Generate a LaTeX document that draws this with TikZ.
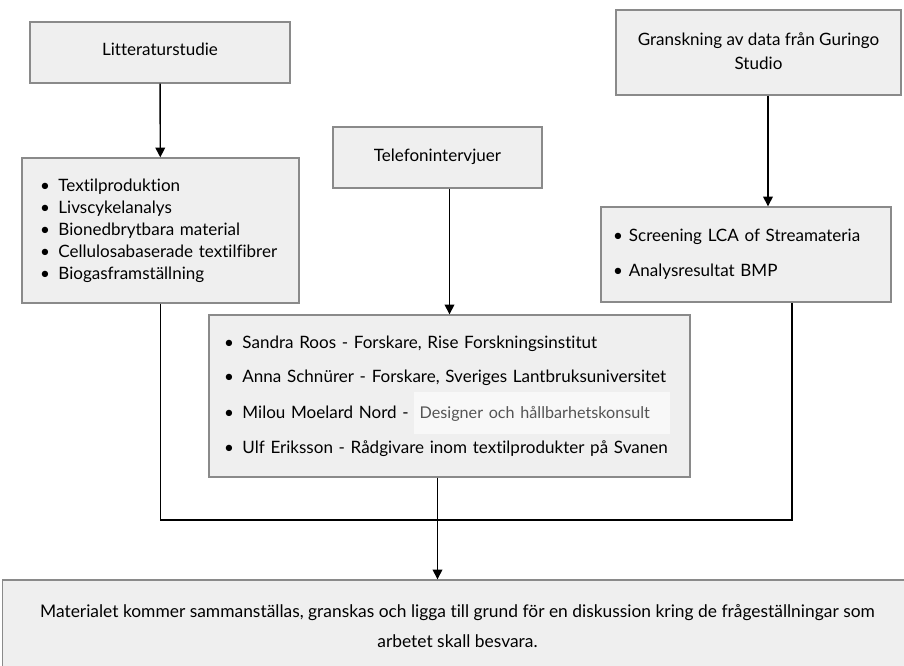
\documentclass[tikz,border=0pt]{standalone}
\usepackage{fontspec}
\setmainfont{Lato}[Ligatures=NoCommon]
\usetikzlibrary{arrows.meta}
\definecolor{boxfill}{HTML}{EFEFEF}
\definecolor{boxline}{HTML}{8A8A8A}
\definecolor{patchfill}{HTML}{F8F8F8}
\definecolor{patchtext}{HTML}{555555}
\begin{document}
\begin{tikzpicture}[
    x=0.02cm,y=-0.02cm,
    box/.style={draw=boxline,fill=boxfill,line width=0.8pt,inner sep=0pt,
      font=\fontsize{9.7}{12.5}\selectfont},
    listbox/.style={box,align=left,inner xsep=#1,inner ysep=0pt},
    arr/.style={-{Triangle[length=5.5pt,width=5.5pt]},line width=0.8pt},
    link/.style={line width=0.8pt},
  ]
  \useasboundingbox (0,0) rectangle (904,666);
  % sources
  \node[box,minimum width=5.2cm,minimum height=1.22cm] (lit) at (160,52.5)
    {\raisebox{0.12cm}{Litteraturstudie}};
  \node[box,minimum width=4.18cm,minimum height=1.22cm] (tel) at (437.5,157.5)
    {\raisebox{0.08cm}{Telefonintervjuer}};
  \node[box,minimum width=5.7cm,minimum height=1.7cm] (gran) at (758.5,52.5)
    {\raisebox{0.12cm}{\renewcommand\arraystretch{1.08}\begin{tabular}{@{}c@{}}Granskning av data från Guringo\\Studio\end{tabular}}};
  % contents
  \node[listbox=0.36cm,text width=4.82cm,minimum height=2.9cm] (litlist) at (160.5,230.5)
    {\textbullet\enspace Textilproduktion\\
     \textbullet\enspace Livscykelanalys\\
     \textbullet\enspace Bionedbrytbara material\\
     \textbullet\enspace Cellulosabaserade textilfibrer\\
     \textbullet\enspace Biogasframställning};
  \node[listbox=0.24cm,text width=5.32cm,minimum height=1.9cm] (granlist) at (746,254.5)
    {\textbullet\hspace{0.12cm}Screening LCA of Streamateria\\[7.3pt]
     \textbullet\hspace{0.12cm}Analysresultat BMP};
  \node[listbox=0.3cm,text width=9.02cm,minimum height=3.24cm] (mid) at (449.5,396)
    {\textbullet\enspace Sandra Roos - Forskare, Rise Forskningsinstitut\\[7.3pt]
     \textbullet\enspace Anna Schnürer - Forskare, Sveriges Lantbruksuniversitet\\[2.5pt]
     \mbox{\textbullet\enspace Milou Moelard Nord -
       \colorbox{patchfill}{\rule[-0.2cm]{0pt}{0.62cm}\fontsize{9.2}{11}\selectfont\color{patchtext}Designer och hållbarhetskonsult\hspace{0.3cm}}}\\[3pt]
     \textbullet\enspace Ulf Eriksson - Rådgivare inom textilprodukter på Svanen};
  % result
  \node[box,align=center,minimum width=18.2cm,minimum height=1.84cm,
    font=\fontsize{9.9}{17}\selectfont] (sum) at (457.5,626)
    {Materialet kommer sammanställas, granskas och ligga till grund för en diskussion kring de frågeställningar som\\
     arbetet skall besvara.};
  % connectors
  \draw[arr] (lit) -- (litlist);
  \draw[arr] (mid.north |- tel.south) -- (mid.north);
  \coordinate (g1) at ([xshift=0.19cm]gran.south);
  \draw[arr] (g1) -- (g1 |- granlist.north);
  \coordinate (g2) at ([xshift=0.92cm]granlist.south);
  \coordinate (join) at (437,520);
  \draw[link] (litlist.south) |- (join) -| (g2);
  \draw[arr] (mid.south -| tel.south) -- (sum.north -| tel.south);
\end{tikzpicture}
\end{document}
